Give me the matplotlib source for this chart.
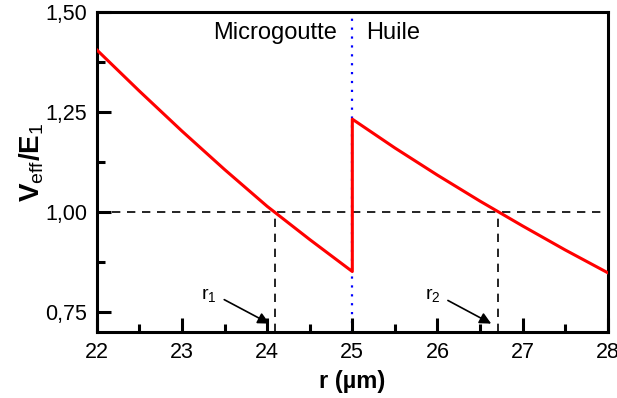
import matplotlib
matplotlib.use("Agg")
import matplotlib.pyplot as plt
from matplotlib.ticker import MultipleLocator, FuncFormatter

plt.rcParams['font.family'] = ['Liberation Sans', 'DejaVu Sans']
plt.rcParams['mathtext.fontset'] = 'custom'
plt.rcParams['mathtext.rm'] = 'Liberation Sans'
plt.rcParams['mathtext.bf'] = 'Liberation Sans:bold'
plt.rcParams['mathtext.it'] = 'Liberation Sans:italic'

# Data
r_drop = [22.0, 22.5, 23.0, 23.5, 24.0, 24.5, 25.0]
v_drop = [1.405, 1.302, 1.202, 1.106, 1.014, 0.931, 0.851]
r_oil = [25.0, 25.5, 26.0, 26.5, 27.0, 27.5, 28.0]
v_oil = [1.232, 1.160, 1.092, 1.027, 0.965, 0.905, 0.848]
r1 = 24.09
r2 = 26.71
level = 1.00
interface = 25.0
x_ticks = [22, 23, 24, 25, 26, 27, 28]
y_ticks = [0.75, 1.00, 1.25, 1.50]

fig = plt.figure(figsize=(6.17, 3.98), dpi=100)
ax = fig.add_axes([0.157, 0.166, 0.828, 0.804])

ax.axvline(interface, color='#0000ff', lw=1.6, ls=(0, (1, 3)), zorder=1)
ax.axhline(level, color='black', lw=1.2, ls=(0, (5, 4)), zorder=2)
ax.plot([r1, r1], [0.70, level], color='black', lw=1.2, ls=(0, (5, 4)), zorder=2)
ax.plot([r2, r2], [0.70, level], color='black', lw=1.2, ls=(0, (5, 4)), zorder=2)

ax.plot(r_drop + r_oil, v_drop + v_oil, color='#ff0000', lw=2.2, zorder=3)

ax.set_xlim(22, 28)
ax.set_ylim(0.70, 1.50)
ax.set_xticks(x_ticks)
ax.set_yticks(y_ticks)
ax.xaxis.set_minor_locator(MultipleLocator(0.5))
ax.yaxis.set_minor_locator(MultipleLocator(0.125))
ax.yaxis.set_major_formatter(FuncFormatter(lambda v, p: f"{v:.2f}".replace('.', ',')))
ax.tick_params(which='major', direction='in', length=10, width=2.2, labelsize=15.5, pad=7)
ax.tick_params(which='minor', direction='in', length=5.5, width=2.2)
ax.tick_params(top=False, right=False, which='both')
for s in ax.spines.values():
    s.set_linewidth(2.2)

ax.set_xlabel('r (µm)', fontsize=17, fontweight='bold', labelpad=5)
ax.set_ylabel(r'$\mathbf{V}_{\mathrm{eff}}\mathbf{/E}_{\mathrm{1}}$', fontsize=20)
ax.yaxis.set_label_coords(-0.10, 0.53)

ax.text(24.82, 1.4475, 'Microgoutte', fontsize=17, ha='right', va='center')
ax.text(25.165, 1.4475, 'Huile', fontsize=17, ha='left', va='center')

ax.annotate('', xy=(24.055, 0.7175), xytext=(23.467, 0.784),
            arrowprops=dict(arrowstyle='-|>', color='black', lw=1.2, mutation_scale=17))
ax.annotate('', xy=(26.66, 0.7175), xytext=(26.094, 0.782),
            arrowprops=dict(arrowstyle='-|>', color='black', lw=1.2, mutation_scale=17))
ax.text(23.32, 0.7925, r'r$_{\mathrm{1}}$', fontsize=14, ha='center', va='center')
ax.text(25.94, 0.7925, r'r$_{\mathrm{2}}$', fontsize=14, ha='center', va='center')

fig.savefig('out.png', dpi=100)
